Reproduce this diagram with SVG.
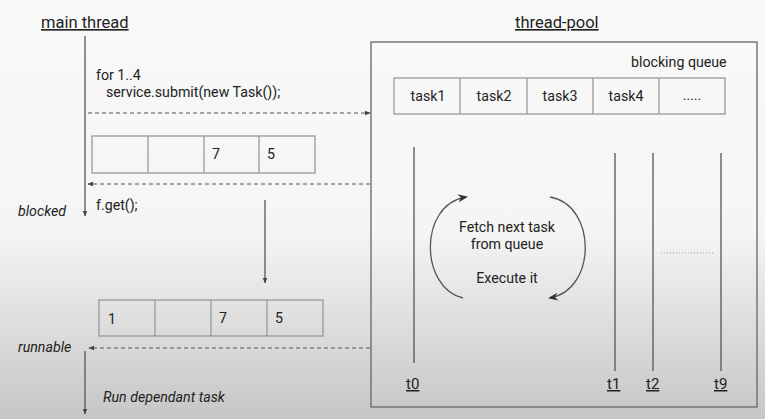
<svg xmlns="http://www.w3.org/2000/svg" width="765" height="419" viewBox="0 0 765 419">
<style>
text{font-family:Roboto,"Liberation Sans",sans-serif;fill:#222}
.t{font-size:14.2px}
.h{font-size:16.5px;text-decoration:underline}
.th{font-size:15px;text-decoration:underline}
.i{font-size:14.2px;font-style:italic}
.ln{stroke:#555;stroke-width:1.3;fill:none}
.dash{stroke:#555;stroke-width:1;stroke-dasharray:4 3;fill:none}
.box{fill:none;stroke:#999;stroke-width:1.3}
</style>
<defs>
<linearGradient id="bg" x1="0" y1="0" x2="0" y2="1">
<stop offset="0" stop-color="#f9f9f9"/>
<stop offset="0.55" stop-color="#f5f5f5"/>
<stop offset="1" stop-color="#c6c6c6"/>
</linearGradient>
<marker id="ah" viewBox="0 0 10 10" refX="9" refY="5" markerWidth="6" markerHeight="6" orient="auto" markerUnits="userSpaceOnUse">
<path d="M0,1 L10,5 L0,9 z" fill="#444"/>
</marker>
<marker id="ah2" viewBox="0 0 10 10" refX="8" refY="5" markerWidth="10" markerHeight="10" orient="auto" markerUnits="userSpaceOnUse">
<path d="M0,1 L10,5 L0,9 L3,5 z" fill="#333"/>
</marker>
</defs>
<rect width="765" height="419" fill="url(#bg)"/>

<g id="main-thread">
<text class="h" x="41" y="28">main thread</text>
</g>
<g id="thread-pool">
<rect x="371" y="42" width="386" height="365" fill="none" stroke="#666" stroke-width="1.3"/>
<text class="h" x="515" y="28">thread-pool</text>
<text class="t" x="631" y="67">blocking queue</text>
</g>
<g id="code-submit">
<text class="t" x="96" y="80">for 1..4</text>
<text class="t" x="106" y="97">service.submit(new Task());</text>
</g>
<g id="array1">
<rect class="box" x="92" y="136" width="223" height="37"/>
<line class="box" x1="148" y1="136" x2="148" y2="173"/>
<line class="box" x1="204" y1="136" x2="204" y2="173"/>
<line class="box" x1="259" y1="136" x2="259" y2="173"/>
<text class="t" x="212" y="159">7</text>
<text class="t" x="267" y="159">5</text>
</g>
<g id="array2">
<rect class="box" x="99" y="300" width="224" height="36"/>
<line class="box" x1="155" y1="300" x2="155" y2="336"/>
<line class="box" x1="211" y1="300" x2="211" y2="336"/>
<line class="box" x1="267" y1="300" x2="267" y2="336"/>
<text class="t" x="108" y="324">1</text>
<text class="t" x="219" y="323">7</text>
<text class="t" x="275" y="323">5</text>
</g>
<g id="queue">
<rect class="box" x="394" y="78" width="331" height="36"/>
<line class="box" x1="460" y1="78" x2="460" y2="114"/>
<line class="box" x1="527" y1="78" x2="527" y2="114"/>
<line class="box" x1="593" y1="78" x2="593" y2="114"/>
<line class="box" x1="659" y1="78" x2="659" y2="114"/>
<g text-anchor="middle">
<text class="t" x="428" y="101">task1</text>
<text class="t" x="494" y="101">task2</text>
<text class="t" x="560" y="101">task3</text>
<text class="t" x="626" y="101">task4</text>
<text class="t" x="692" y="100" fill="#666">.....</text>
</g>
</g>
<g id="labels">
<text class="i" x="18" y="216">blocked</text>
<text class="t" x="96" y="210">f.get();</text>
<text class="i" x="18" y="352">runnable</text>
<text class="i" x="103" y="402">Run dependant task</text>
</g>
<g id="loop">
<text class="t" x="507" y="232" text-anchor="middle">Fetch next task</text>
<text class="t" x="507" y="249" text-anchor="middle">from queue</text>
<text class="t" x="507" y="283" text-anchor="middle">Execute it</text>
</g>
<g id="threads">
<line class="ln" x1="414" y1="147" x2="414" y2="363" stroke-width="1"/>
<line class="ln" x1="615" y1="153" x2="615" y2="371" stroke-width="1"/>
<line class="ln" x1="653" y1="153" x2="653" y2="371" stroke-width="1"/>
<line class="ln" x1="721" y1="153" x2="721" y2="371" stroke-width="1"/>
<text class="th" x="406" y="389">t0</text>
<text class="th" x="607" y="389">t1</text>
<text class="th" x="646" y="389">t2</text>
<text class="th" x="714" y="389">t9</text>
<line x1="661" y1="253" x2="715" y2="253" stroke="#999" stroke-width="1" stroke-dasharray="1 2"/>
</g>
<g id="connectors">
<line class="ln" x1="85" y1="36" x2="85" y2="216" marker-end="url(#ah)"/>
<line class="ln" x1="85" y1="351" x2="85" y2="414" marker-end="url(#ah)"/>
<line class="dash" x1="88" y1="113" x2="370" y2="113" marker-end="url(#ah)"/>
<line class="dash" x1="370" y1="184" x2="88" y2="184" marker-end="url(#ah)"/>
<line class="dash" x1="370" y1="348" x2="89" y2="348" marker-end="url(#ah)"/>
<line class="ln" x1="265" y1="200" x2="265" y2="283" marker-end="url(#ah)" stroke-width="1"/>
<path class="ln" d="M463,298 C420,288 418,205 466,197" stroke="#333" stroke-width="1.6" marker-end="url(#ah2)"/>
<path class="ln" d="M550,197 C597,205 597,290 550,298" stroke="#333" stroke-width="1.6" marker-end="url(#ah2)"/>
</g>
</svg>
